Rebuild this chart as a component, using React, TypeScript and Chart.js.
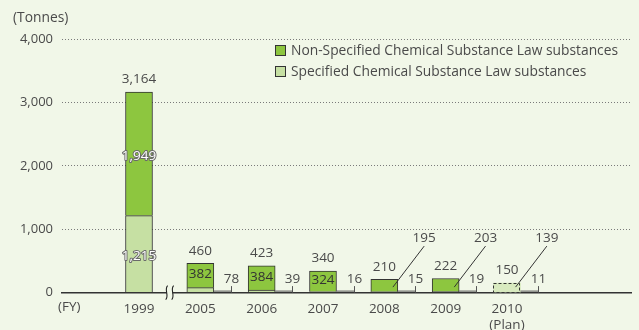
import React, { useEffect, useRef } from 'react';
import { Chart, registerables } from 'chart.js';

Chart.register(...registerables);

// ---- data ----
const years = ['1999', '2005', '2006', '2007', '2008', '2009', '2010'];
const yearSub = ['', '', '', '', '', '', '(Plan)'];
const specified = [1215, 78, 39, 16, 15, 19, 11];
const nonSpecified = [1949, 382, 384, 324, 195, 203, 139];
const totals = [3164, 460, 423, 340, 210, 222, 150];
const planIndex = 6;
const breakAfter = 0; // axis break between 1999 and 2005
const yTickValues = [0, 1000, 2000, 3000, 4000];
const seriesNames = [
  'Non-Specified Chemical Substance Law substances',
  'Specified Chemical Substance Law substances',
];
const yUnit = '(Tonnes)';
const xUnit = '(FY)';

// ---- styles ----
const FONT = "'Open Sans', sans-serif";
const BG = '#f1f7e8';
const DARK = '#8dc63f';
const LIGHT = '#c6e0a3';
const PLAN = '#d8eabf';
const TEXT = '#4a4a4a';
const EDGE = '#333333';

const fmt = (v: number) => v.toLocaleString('en-US');

const labelPlugin = {
  id: 'customLabels',
  afterDatasetsDraw(chart: any) {
    const { ctx, scales } = chart;
    const x = scales.x;
    const y = scales.y;
    const axisY = y.getPixelForValue(0);
    const unit = x.getPixelForValue(1) - x.getPixelForValue(0);
    const lowMeta = chart.getDatasetMeta(0);
    const highMeta = chart.getDatasetMeta(1);
    ctx.save();
    ctx.font = `13.5px ${FONT}`;
    ctx.textAlign = 'center';
    ctx.textBaseline = 'middle';
    ctx.lineJoin = 'round';

    const outlined = (t: string, px: number, py: number) => {
      ctx.strokeStyle = '#6a6a6a';
      ctx.lineWidth = 2;
      ctx.strokeText(t, px, py);
      ctx.fillStyle = '#ffffff';
      ctx.fillText(t, px, py);
    };

    years.forEach((_, i) => {
      const lo = lowMeta.data[i];
      const hi = highMeta.data[i];
      const cx = hi.x;
      const w = hi.width;
      const yTop = hi.y;
      const yMid = lo.y;

      if (i === planIndex) {
        ctx.save();
        ctx.setLineDash([3, 2]);
        ctx.strokeStyle = EDGE;
        ctx.lineWidth = 1;
        ctx.strokeRect(Math.round(cx - w / 2) + 0.5, Math.round(yTop) + 0.5, Math.round(w) - 1, Math.round(axisY - yTop) - 1);
        ctx.restore();
      }

      // total
      ctx.fillStyle = TEXT;
      ctx.fillText(fmt(totals[i]), cx, yTop - 12.5);

      // non-specified segment value
      const segH = yMid - yTop;
      if (segH > 60) {
        outlined(fmt(nonSpecified[i]), cx, (yMid + yTop) / 2 + 2);
      } else if (segH > 16) {
        ctx.fillStyle = '#333';
        ctx.fillText(fmt(nonSpecified[i]), cx, (yMid + yTop) / 2 - 1);
      } else {
        const x0 = cx + unit * 0.14;
        const x1 = cx + unit * 0.65;
        ctx.strokeStyle = '#333';
        ctx.lineWidth = 1;
        ctx.beginPath();
        ctx.moveTo(x0, axisY - 5.5);
        ctx.lineTo(x1, axisY - 46.5);
        ctx.stroke();
        ctx.fillStyle = TEXT;
        ctx.fillText(fmt(nonSpecified[i]), x1, axisY - 54.5);
      }

      // specified segment value
      const lightH = axisY - yMid;
      if (lightH > 60) {
        outlined(fmt(specified[i]), cx, (axisY + yMid) / 2 + 2);
      } else {
        const tx = Math.round(cx + unit / 2) + 0.5;
        ctx.strokeStyle = '#555';
        ctx.lineWidth = 1;
        ctx.beginPath();
        ctx.moveTo(tx, axisY - 6.5);
        ctx.lineTo(tx, axisY);
        ctx.moveTo(cx + w / 2, axisY - 1.5);
        ctx.lineTo(tx, axisY - 1.5);
        ctx.stroke();
        ctx.fillStyle = TEXT;
        ctx.fillText(fmt(specified[i]), tx, axisY - 13.5);
      }
    });

    // axis break mark
    const bx = x.getPixelForValue(breakAfter + 0.5);
    ctx.fillStyle = BG;
    ctx.fillRect(bx - 3, axisY - 3, 6, 6);
    ctx.strokeStyle = '#222';
    ctx.lineWidth = 1.1;
    [-3, 3].forEach((dx) => {
      const sx = bx + dx;
      ctx.beginPath();
      ctx.moveTo(sx + 1, axisY - 7);
      ctx.bezierCurveTo(sx - 3, axisY - 3, sx + 3, axisY + 3, sx - 1, axisY + 7);
      ctx.stroke();
    });

    ctx.restore();
  },
  afterDraw(chart: any) {
    const { ctx } = chart;
    const { left, bottom } = chart.chartArea;
    ctx.save();
    ctx.font = `13.8px ${FONT}`;
    ctx.fillStyle = TEXT;
    ctx.textBaseline = 'middle';
    ctx.textAlign = 'left';
    ctx.fillText(yUnit, 13, 18.5);
    ctx.font = `13.5px ${FONT}`;
    ctx.fillText(xUnit, left - 4, bottom + 15);

    // legend
    ctx.font = `13.8px ${FONT}`;
    const colors = [DARK, LIGHT];
    seriesNames.forEach((name, k) => {
      const ly = 51 + k * 21;
      ctx.fillStyle = colors[k];
      ctx.fillRect(275.5, ly - 5.5, 10, 10);
      ctx.strokeStyle = EDGE;
      ctx.lineWidth = 1;
      ctx.strokeRect(275.5, ly - 5.5, 10, 10);
      ctx.fillStyle = TEXT;
      ctx.fillText(name, 291, ly + 0.5);
    });
    ctx.restore();
  },
};

export default function App() {
  const ref = useRef<HTMLCanvasElement | null>(null);

  useEffect(() => {
    if (!ref.current) return;
    const colorFor = (base: string) => (c: any) => (c.dataIndex === planIndex ? PLAN : base);
    const widthFor = (c: any) => (c.dataIndex === planIndex ? 0 : 1);
    const chart = new Chart(ref.current, {
      type: 'bar',
      data: {
        datasets: [
          {
            label: seriesNames[1],
            data: specified.map((v, i) => ({ x: i, y: v })),
            backgroundColor: colorFor(LIGHT),
            borderColor: EDGE,
            borderWidth: widthFor,
            barThickness: 27,
          },
          {
            label: seriesNames[0],
            data: nonSpecified.map((v, i) => ({ x: i, y: v })),
            backgroundColor: colorFor(DARK),
            borderColor: EDGE,
            borderWidth: widthFor,
            barThickness: 27,
          },
        ],
      } as any,
      options: {
        animation: false,
        responsive: false,
        devicePixelRatio: 1,
        font: { family: FONT, size: 13 },
        layout: { padding: { top: 39, right: 8, left: 0, bottom: 0 } },
        plugins: { legend: { display: false }, tooltip: { enabled: false } },
        scales: {
          x: {
            type: 'linear',
            offset: false,
            min: -1.2555,
            max: 8.022,
            stacked: true,
            grid: { display: false, offset: false },
            border: { display: true, color: '#333', width: 1.5 },
            ticks: {
              color: TEXT,
              font: { family: FONT, size: 13.5 },
              padding: 0,
              autoSkip: false,
              maxRotation: 0,
              callback: (v: any) => {
                const i = Math.round(Number(v));
                return yearSub[i] ? [years[i], yearSub[i]] : years[i];
              },
            },
            afterBuildTicks: (s: any) => {
              s.ticks = years.map((_, i) => ({ value: i }));
            },
            afterFit: (s: any) => {
              s.height = 37.4;
            },
          },
          y: {
            stacked: true,
            min: 0,
            max: 4000,
            grid: {
              color: (c: any) => (c.tick && c.tick.value === 0 ? 'rgba(0,0,0,0)' : '#7a7a7a'),
              lineWidth: 1,
              drawTicks: false,
            },
            border: { display: false, dash: [1, 2] },
            ticks: {
              color: TEXT,
              font: { family: FONT, size: 13 },
              padding: 9,
              callback: (v: any) => fmt(Number(v)),
            },
            afterBuildTicks: (s: any) => {
              s.ticks = yTickValues.map((v) => ({ value: v }));
            },
            afterFit: (s: any) => {
              s.width = 62;
            },
          },
        },
      } as any,
      plugins: [labelPlugin],
    });
    return () => chart.destroy();
  }, []);

  return (
    <div style={{ position: 'fixed', left: 0, top: 0, width: 639, height: 330, background: BG }}>
      <canvas ref={ref} width={639} height={330} style={{ display: 'block', width: 639, height: 330 }} />
    </div>
  );
}
